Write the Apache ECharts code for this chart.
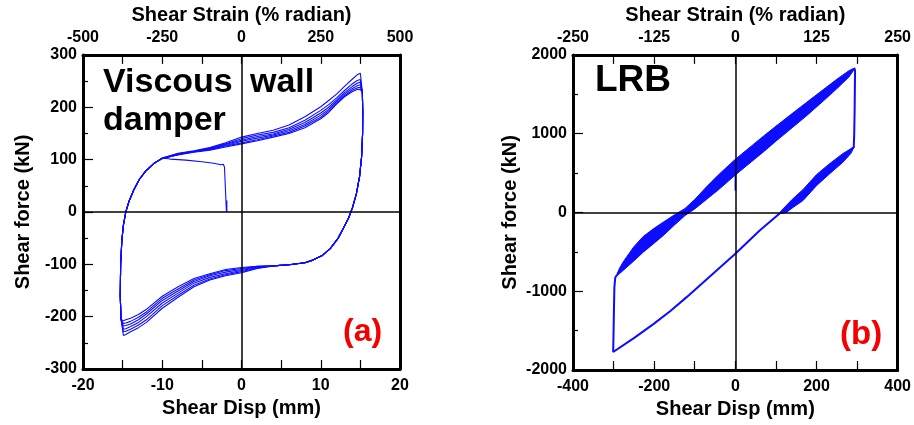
<!DOCTYPE html>
<html>
<head>
<meta charset="utf-8">
<script src="https://cdn.jsdelivr.net/npm/echarts/dist/echarts.min.js"></script>
<style>
  html, body { margin: 0; padding: 0; background: #fff; }
  #chart { width: 914px; height: 425px; }
</style>
</head>
<body>
<div id="chart"></div>
<script>
// ---- (a) viscous wall damper: six hysteresis loops ----
// upper branch (force rising with disp), one array per loop
var upperX = [-10, -8, -6, -4, -2, 0, 2, 4, 6, 8, 10, 11, 12, 13, 14, 14.6, 15.0];
var upperA = [103, 112, 117, 123, 132, 143, 150, 156, 166, 182, 201, 213, 225, 240, 254, 262, 265];
var upperB = [103, 111, 116, 122, 130, 140, 147, 152, 161, 175, 194, 205, 218, 232, 245, 251, 253];
var upperC = [102, 111, 116, 121, 129, 137, 144, 149, 158, 171, 189, 200, 214, 228, 240, 246, 248];
var upperD = [102, 110, 115, 120, 127, 135, 141, 147, 155, 167, 185, 196, 211, 225, 236, 241, 243];
var upperE = [102, 110, 115, 119, 126, 132, 138, 145, 152, 164, 181, 193, 208, 222, 233, 237, 238];
var upperF = [102, 109, 114, 118, 124, 130, 136, 143, 150, 161, 178, 190, 206, 220, 230, 234, 234];
// right unloading edge (shared)
var rightEdge = [[15.25, 228], [15.3, 190], [15.28, 150], [15.15, 105], [14.9, 68], [14.5, 35], [14.0, 8],
  [13.5, -12], [12.85, -31], [12.2, -50], [11.2, -70], [10.2, -83], [9.0, -92], [8.0, -97], [6.0, -101], [4.0, -103]];
// lower branch
var lowerX = [2, 0, -2, -4, -6, -8, -10, -12, -13, -14, -14.6, -14.9];
var lowerA = [-108, -116, -122, -130, -143, -163, -184, -211, -221, -229, -234, -236];
var lowerB = [-107, -114, -120, -128, -140, -159, -179, -206, -216, -224, -228, -229];
var lowerC = [-106, -112, -118, -125, -136, -155, -174, -200, -211, -219, -223, -224];
var lowerD = [-105, -110, -115, -122, -133, -151, -169, -195, -206, -214, -217, -218];
var lowerE = [-104, -108, -112, -120, -130, -147, -165, -191, -201, -209, -212, -213];
var lowerF = [-104, -106, -110, -118, -127, -143, -161, -186, -196, -203, -206, -208];
// left reloading edge (shared)
var leftEdge = [[-15.2, -205], [-15.3, -160], [-15.25, -100], [-15.1, -55], [-14.9, -25], [-14.6, 0], [-14.2, 20],
  [-13.6, 42], [-12.9, 62], [-12.1, 78], [-11.1, 92], [-10.5, 98]];
// first loading path
var startPath = [[-1.85, 0], [-1.85, 22], [-1.9, 0], [-2.15, 0], [-2.15, 86], [-2.3, 91], [-2.6, 90], [-3.5, 93],
  [-5, 96], [-7, 99], [-9, 101], [-10, 103]];

// ---- (b) LRB ----
// thick noisy band on the loading branch: x, upper edge, lower edge
var bandUpX  = [-292, -285, -276, -250, -227, -200, -178, -150, -124, -100, -71, -40, 0, 40, 72, 100, 140, 175, 208, 250, 280, 294];
var bandUpHi = [-785, -705, -625, -435, -305, -200, -125, -30, 50, 165, 325, 485, 675, 845, 980, 1095, 1255, 1395, 1525, 1690, 1800, 1835];
var bandUpLo = [-805, -775, -735, -615, -505, -390, -295, -160, -40, 45, 165, 295, 475, 645, 780, 905, 1075, 1225, 1375, 1570, 1720, 1825];
// band on the unloading branch
var bandLowX  = [292, 285, 265, 230, 200, 167, 140, 126, 112];
var bandLowHi = [835, 810, 747, 610, 480, 292, 165, 90, 15];
var bandLowLo = [825, 750, 637, 480, 340, 152, 55, 0, -15];
// thin parts of the loop
var lrbRight = [[294, 1830], [295, 1790], [294, 1300], [293, 1000], [292, 860], [292, 830]];
var lrbReturn = [[112, 0], [60, -230], [0, -525], [-60, -800], [-120, -1075], [-160, -1250], [-202, -1418], [-250, -1595], [-301, -1772]];
var lrbLeft = [[-301, -1772], [-300, -1500], [-299, -1200], [-298, -950], [-296, -830], [-292, -795]];
var lrbStart = [[0, 280], [0, 530]];

var FONT = '"Liberation Sans", Arial, Helvetica, sans-serif';
var BLUE = '#0c0cff';

function buildLoop(up, low) {
  var pts = upperX.map(function (x, i) { return [x, up[i]]; });
  pts = pts.concat(rightEdge);
  pts = pts.concat(lowerX.map(function (x, i) { return [x, low[i]]; }));
  pts = pts.concat(leftEdge);
  pts.push([upperX[0], up[0]]);
  return pts;
}

function lineSeries(data, xi, yi, width) {
  return {
    type: 'line', xAxisIndex: xi, yAxisIndex: yi, data: data,
    showSymbol: false, symbol: 'none', silent: true,
    lineStyle: { color: BLUE, width: width }
  };
}

function bandSeries(xs, hi, lo) {
  return {
    type: 'custom', xAxisIndex: 2, yAxisIndex: 2, silent: true,
    data: xs.map(function (x, i) { return [x, hi[i], lo[i]]; }),
    encode: { x: 0, y: [1, 2] },
    renderItem: function (params, api) {
      if (params.dataIndex !== 0) return null;
      var pts = [];
      for (var i = 0; i < xs.length; i++) pts.push(api.coord([xs[i], hi[i]]));
      for (var j = xs.length - 1; j >= 0; j--) pts.push(api.coord([xs[j], lo[j]]));
      return { type: 'polygon', shape: { points: pts }, style: { fill: BLUE, stroke: BLUE, lineWidth: 1 } };
    }
  };
}

function zeroLines() {
  return {
    silent: true, symbol: ['none', 'none'], label: { show: false },
    lineStyle: { color: '#000', width: 1.5, type: 'solid' },
    data: [{ xAxis: 0 }, { yAxis: 0 }]
  };
}

function labelStyle(margin) {
  return {
    margin: margin, showMinLabel: true, showMaxLabel: true, hideOverlap: false,
    color: '#000', fontSize: 16, fontWeight: 'bold', fontFamily: FONT,
    formatter: function (v) { return String(v); }
  };
}
function nameStyle() { return { color: '#000', fontSize: 20, fontWeight: 'bold', fontFamily: FONT }; }
function frame() { return { show: true, onZero: false, lineStyle: { color: '#000', width: 3 } }; }

function xAxisOf(grid, pos, min, max, interval, name, gap) {
  return {
    type: 'value', gridIndex: grid, position: pos, min: min, max: max, interval: interval,
    name: name, nameLocation: 'middle', nameGap: gap, nameTextStyle: nameStyle(),
    axisLine: frame(), splitLine: { show: false },
    axisTick: { show: true, inside: true, length: 9, lineStyle: { color: '#000', width: 1.2 } },
    minorTick: { show: true, splitNumber: 2, length: 9, lineStyle: { color: '#000', width: 1.2 } },
    axisLabel: labelStyle(9)
  };
}

function yAxisOf(grid, min, max, interval, name, gap) {
  return {
    type: 'value', gridIndex: grid, position: 'left', min: min, max: max, interval: interval,
    name: name, nameLocation: 'middle', nameGap: gap, nameTextStyle: nameStyle(),
    axisLine: frame(), splitLine: { show: false },
    axisTick: { show: true, inside: true, length: 10, lineStyle: { color: '#000', width: 1.2 } },
    minorTick: { show: true, splitNumber: 2, length: 5, lineStyle: { color: '#000', width: 1.2 } },
    axisLabel: labelStyle(6)
  };
}

function rightFrame(grid, min, max) {
  return {
    type: 'value', gridIndex: grid, position: 'right', min: min, max: max,
    axisLine: frame(), axisTick: { show: false }, axisLabel: { show: false }, splitLine: { show: false }
  };
}

var loopA = lineSeries(buildLoop(upperA, lowerA), 0, 0, 1.1);
loopA.markLine = zeroLines();
var thinRet = lineSeries(lrbRight.concat(lrbReturn, lrbLeft), 2, 2, 2);
thinRet.markLine = zeroLines();

var chart = echarts.init(document.getElementById('chart'));
chart.setOption({
  animation: false,
  backgroundColor: '#fff',
  grid: [
    { left: 83, top: 52, width: 317, height: 317 },
    { left: 573, top: 49, width: 325, height: 321 }
  ],
  xAxis: [
    xAxisOf(0, 'bottom', -20, 20, 10, 'Shear Disp (mm)', 29),
    xAxisOf(0, 'top', -500, 500, 250, 'Shear Strain (% radian)', 29),
    xAxisOf(1, 'bottom', -400, 400, 200, 'Shear Disp (mm)', 29),
    xAxisOf(1, 'top', -250, 250, 125, 'Shear Strain (% radian)', 26)
  ],
  yAxis: [
    yAxisOf(0, -300, 300, 100, 'Shear force (kN)', 50),
    rightFrame(0, -300, 300),
    yAxisOf(1, -2000, 2000, 1000, 'Shear force (kN)', 53),
    rightFrame(1, -2000, 2000)
  ],
  series: [
    loopA,
    lineSeries(buildLoop(upperB, lowerB), 0, 0, 1.1),
    lineSeries(buildLoop(upperC, lowerC), 0, 0, 1.1),
    lineSeries(buildLoop(upperD, lowerD), 0, 0, 1.1),
    lineSeries(buildLoop(upperE, lowerE), 0, 0, 1.1),
    lineSeries(buildLoop(upperF, lowerF), 0, 0, 1.1),
    lineSeries(startPath, 0, 0, 1.1),
    thinRet,
    lineSeries(lrbStart, 2, 2, 1.5),
    bandSeries(bandUpX, bandUpHi, bandUpLo),
    bandSeries(bandLowX, bandLowHi, bandLowLo)
  ],
  graphic: [
    { type: 'text', left: 103, top: 66, style: { text: 'Viscous', font: 'bold 34px ' + FONT, fill: '#000' } },
    { type: 'text', left: 250, top: 66, style: { text: 'wall', font: 'bold 34px ' + FONT, fill: '#000' } },
    { type: 'text', left: 103, top: 104, style: { text: 'damper', font: 'bold 34px ' + FONT, fill: '#000' } },
    { type: 'text', left: 595, top: 62, style: { text: 'LRB', font: 'bold 37px ' + FONT, fill: '#000' } },
    { type: 'text', left: 343, top: 316, style: { text: '(a)', font: 'bold 32px ' + FONT, fill: '#f50000' } },
    { type: 'text', left: 840, top: 318, style: { text: '(b)', font: 'bold 33px ' + FONT, fill: '#f50000' } }
  ]
});
</script>
</body>
</html>
